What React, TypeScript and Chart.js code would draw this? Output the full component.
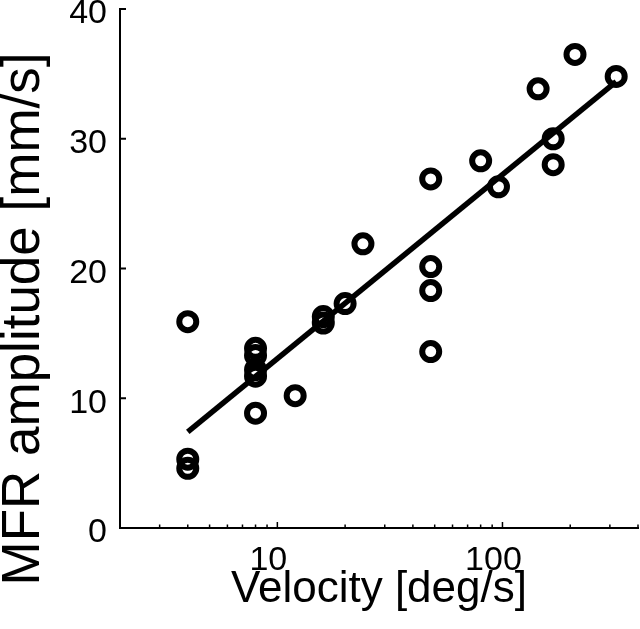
import React, { useEffect, useRef } from "react";
import { Chart, registerables } from "chart.js";

Chart.register(...registerables);

// Data
const velocity = [4, 4, 4, 8, 8, 8, 8, 8, 12, 16, 16, 20, 24, 48, 48, 48, 48, 80, 96, 144, 168, 168, 210, 320];
const amplitude = [15.9, 5.3, 4.6, 13.85, 13.3, 12.2, 11.7, 8.85, 10.2, 16.3, 15.8, 17.3, 21.9, 26.9, 20.15, 18.3, 13.6, 28.3, 26.3, 33.85, 30.0, 28.0, 36.5, 34.8];
const fitVelocity = [4, 320];
const fitAmplitude = [7.4, 34.4];
const xTickLabels = [10, 100];
const yTickValues = [0, 10, 20, 30, 40];
const xTitle = "Velocity [deg/s]";
const yTitle = "MFR amplitude [mm/s]";

const FONT = '"Liberation Sans", Arial, Helvetica, sans-serif';

export default function App() {
  const ref = useRef<HTMLCanvasElement | null>(null);

  useEffect(() => {
    const canvas = ref.current;
    if (!canvas) return;

    const tickPlugin = {
      id: "inwardTicks",
      afterDraw(chart: any) {
        const { ctx, chartArea, scales } = chart;
        const xs = scales.x;
        const ys = scales.y;
        ctx.save();
        ctx.strokeStyle = "#000";
        ctx.lineWidth = 2;
        for (const v of yTickValues) {
          const py = ys.getPixelForValue(v);
          ctx.beginPath();
          ctx.moveTo(chartArea.left, py);
          ctx.lineTo(chartArea.left + 6, py);
          ctx.stroke();
        }
        ctx.lineWidth = 1.5;
        for (let d = 1; d <= 100; d *= 10) {
          for (let m = 1; m <= 9; m++) {
            const v = m * d;
            if (v < xs.min || v > xs.max) continue;
            const px = xs.getPixelForValue(v);
            const len = m === 1 ? 6 : 3.5;
            ctx.beginPath();
            ctx.moveTo(px, chartArea.bottom);
            ctx.lineTo(px, chartArea.bottom - len);
            ctx.stroke();
          }
        }
        ctx.fillStyle = "#000";
        ctx.font = `53px ${FONT}`;
        ctx.textAlign = "center";
        ctx.textBaseline = "alphabetic";
        ctx.translate(39, 319);
        ctx.rotate(-Math.PI / 2);
        ctx.fillText(yTitle, 0, 0);
        ctx.restore();
      },
    };

    const chart = new Chart(canvas, {
      type: "scatter",
      data: {
        datasets: [
          {
            type: "line",
            data: fitVelocity.map((x, i) => ({ x, y: fitAmplitude[i] })),
            borderColor: "#000",
            borderWidth: 5.5,
            pointRadius: 0,
            fill: false,
            showLine: true,
            order: 2,
          } as any,
          {
            type: "scatter",
            data: velocity.map((x, i) => ({ x, y: amplitude[i] })),
            borderColor: "#000",
            backgroundColor: "rgba(0,0,0,0)",
            borderWidth: 6,
            pointRadius: 8.5,
            pointStyle: "circle",
            order: 1,
          },
        ],
      },
      options: {
        responsive: false,
        animation: false,
        layout: { autoPadding: false, padding: { top: 9, right: 2, left: 0, bottom: 0 } },
        plugins: {
          legend: { display: false },
          tooltip: { enabled: false },
        },
        scales: {
          x: {
            type: "logarithmic",
            min: 2,
            max: 400,
            grid: { display: false },
            border: { display: true, color: "#000", width: 2 },
            ticks: {
              autoSkip: false,
              maxRotation: 0,
              color: "#000",
              font: { size: 34, family: FONT },
              padding: 4,
              labelOffset: -9,
              callback: (v: any) => (xTickLabels.includes(Number(v)) ? String(v) : ""),
            },
            title: {
              display: true,
              text: xTitle,
              color: "#000",
              font: { size: 44, family: FONT },
              padding: { top: 0, bottom: 13 },
            },
            afterFit: (s: any) => {
              s.height = 101;
              s.paddingLeft = 0;
              s.paddingRight = 0;
            },
          },
          y: {
            type: "linear",
            min: 0,
            max: 40,
            grid: { display: false },
            border: { display: true, color: "#000", width: 2 },
            ticks: {
              stepSize: 10,
              color: "#000",
              font: { size: 34, family: FONT },
              padding: 5,
              labelOffset: 5,
            },
            afterFit: (s: any) => {
              s.width = 120;
              s.paddingTop = 0;
              s.paddingBottom = 0;
            },
          },
        },
      },
      plugins: [tickPlugin],
    });

    return () => chart.destroy();
  }, []);

  return (
    <div style={{ position: "fixed", left: 0, top: 0, width: 640, height: 629, background: "#fff" }}>
      <canvas ref={ref} width={640} height={629} />
    </div>
  );
}
